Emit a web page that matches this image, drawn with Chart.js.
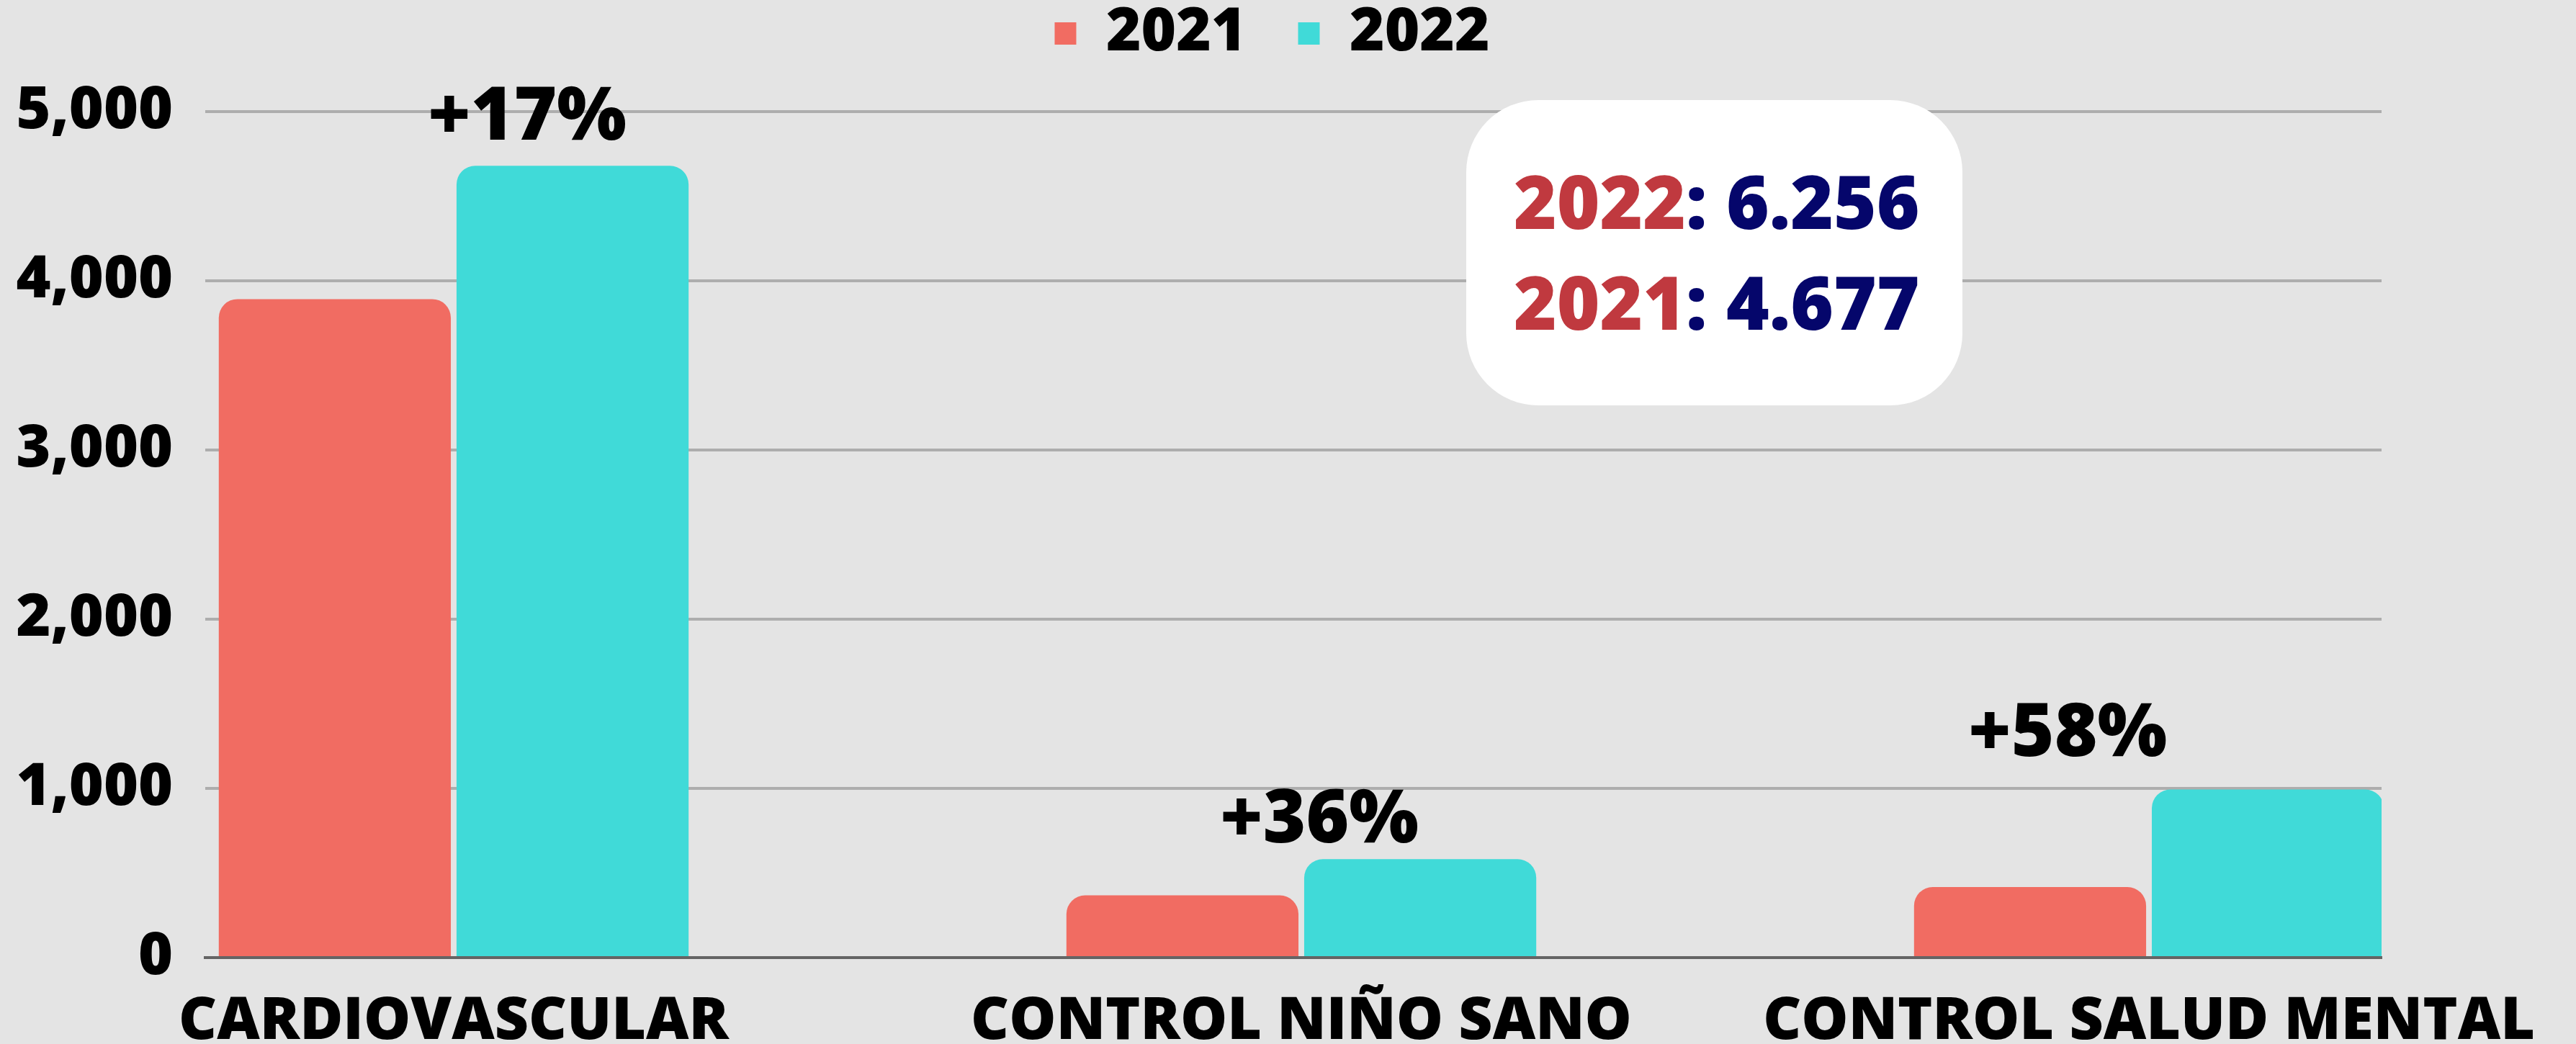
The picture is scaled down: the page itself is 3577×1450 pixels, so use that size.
<!DOCTYPE html>
<html>
<head>
<meta charset="utf-8">
<script src="https://cdn.jsdelivr.net/npm/chart.js@4.4.0/dist/chart.umd.min.js"></script>
<style>
  html, body { margin: 0; padding: 0; background: #e4e4e4; }
  canvas { display: block; }
</style>
</head>
<body>
<canvas id="atenciones" width="3577" height="1450"></canvas>
<script>
var categories = ["CARDIOVASCULAR", "CONTROL NIÑO SANO", "CONTROL SALUD MENTAL"];
var years = ["2021", "2022"];
var values2021 = [3892, 368, 417];
var values2022 = [4680, 582, 994];
var changeLabels = ["+17%", "+36%", "+58%"];
var totalLabels = [["2022", "6.256"], ["2021", "4.677"]];
var yTicks = [0, 1000, 2000, 3000, 4000, 5000];

Chart.defaults.font.family = "'Open Sans', sans-serif";
Chart.defaults.font.weight = "800";
Chart.defaults.color = "#000";

// extra room under the legend, and nudge it right
var legendMargin = {
  id: "legendMargin",
  beforeInit: function (chart) {
    var fit = chart.legend.fit;
    chart.legend.fit = function () {
      fit.bind(chart.legend)();
      this.height += 57;
    };
  },
  afterLayout: function (chart) {
    chart.legend.left += 113;
    chart.legend.right += 113;
  }
};

// "+17%" etc. above the 2022 bars
var changeLabelsPlugin = {
  id: "changeLabels",
  afterDatasetsDraw: function (chart, args, opts) {
    var meta = chart.getDatasetMeta(1);
    var ctx = chart.ctx;
    ctx.save();
    ctx.font = "800 102px 'Open Sans'";
    ctx.fillStyle = "#000";
    ctx.textAlign = "center";
    ctx.textBaseline = "alphabetic";
    meta.data.forEach(function (bar, i) {
      var off = opts.offsets[i];
      ctx.fillText(changeLabels[i], bar.x + off[0], bar.y + off[1]);
    });
    ctx.restore();
  }
};

// white box with totals
var totalsBox = {
  id: "totalsBox",
  afterDraw: function (chart, args, opts) {
    var ctx = chart.ctx;
    ctx.save();
    ctx.fillStyle = "#ffffff";
    ctx.beginPath();
    ctx.roundRect(opts.x, opts.y, opts.w, opts.h, opts.r);
    ctx.fill();
    ctx.font = "800 102px 'Open Sans'";
    ctx.textBaseline = "alphabetic";
    totalLabels.forEach(function (t, i) {
      var x = opts.textX;
      var y = opts.textY + i * opts.lineGap;
      ctx.fillStyle = "#c0393f";
      ctx.fillText(t[0], x, y);
      x += ctx.measureText(t[0]).width;
      ctx.fillStyle = "#05066b";
      ctx.fillText(": " + t[1], x, y);
    });
    ctx.restore();
  }
};

var X_MIN = -0.2931, X_MAX = 2.2744;

var ctx = document.getElementById("atenciones").getContext("2d");
var chart = new Chart(ctx, {
  type: "bar",
  data: {
    datasets: [
      {
        label: years[0],
        backgroundColor: "#f16c62",
        data: categories.map(function (c, i) { return { x: i, y: values2021[i] }; })
      },
      {
        label: years[1],
        backgroundColor: "#40dad8",
        data: categories.map(function (c, i) { return { x: i, y: values2022[i] }; })
      }
    ]
  },
  options: {
    responsive: false,
    animation: false,
    events: [],
    layout: { padding: { top: -67, right: 270, bottom: 0, left: 0 } },
    datasets: {
      bar: {
        borderRadius: 26,
        borderSkipped: "start",
        barPercentage: 0.976,
        categoryPercentage: 0.561
      }
    },
    scales: {
      x: {
        type: "linear",
        offset: false,
        bounds: "data",
        min: X_MIN,
        max: X_MAX,
        grid: { display: false, offset: false },
        border: { color: "#646464", width: 4 },
        afterBuildTicks: function (axis) {
          axis.ticks = categories.map(function (c, i) { return { value: i }; });
          axis.min = X_MIN;
          axis.max = X_MAX;
        },
        afterFit: function (axis) {
          axis.height = 120;
          axis.paddingLeft = 0;
          axis.paddingRight = 0;
        },
        ticks: {
          autoSkip: false,
          maxRotation: 0,
          padding: 32,
          font: { size: 82, weight: "800" },
          color: "#000",
          callback: function (v) { return categories[v]; }
        }
      },
      y: {
        min: 0,
        max: 5000,
        border: { display: false },
        grid: {
          lineWidth: 4,
          drawTicks: false,
          color: function (c) { return c.tick && c.tick.value === 0 ? "#646464" : "#adadad"; }
        },
        afterBuildTicks: function (axis) {
          axis.ticks = yTicks.map(function (v) { return { value: v }; });
        },
        afterFit: function (axis) { axis.width = 285; },
        ticks: {
          padding: 45,
          font: { size: 82, weight: "800" },
          color: "#000",
          callback: function (v) { return v.toLocaleString("en-US"); }
        }
      }
    },
    plugins: {
      tooltip: { enabled: false },
      legend: {
        position: "top",
        labels: {
          boxWidth: 30,
          boxHeight: 31,
          padding: 72,
          color: "#000",
          font: { size: 83, weight: "800" }
        }
      },
      changeLabels: { offsets: [[-63, -36], [-140, -23], [-278, -46]] },
      totalsBox: { x: 2036, y: 139, w: 689, h: 424, r: 100, textX: 2102, textY: 318, lineGap: 140 }
    }
  },
  plugins: [legendMargin, changeLabelsPlugin, totalsBox]
});
</script>
</body>
</html>
